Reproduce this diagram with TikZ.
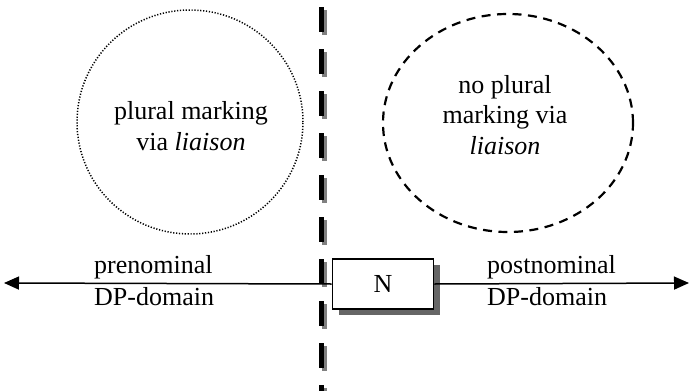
\documentclass[tikz,border=0pt]{standalone}
\usepackage{fontspec}
\setmainfont{Liberation Serif}
\usetikzlibrary{arrows.meta,shapes.geometric,shadows}

\begin{document}
\begin{tikzpicture}[x=1pt, y=-1pt,
                    every node/.style={font=\fontsize{26}{30.5}\selectfont, text=black},
                    txt/.style={align=center, inner sep=0pt},
                    dotring/.style={draw, ellipse, line width=1.5pt,
                                    dash pattern=on 1.2pt off 1.7pt},
                    dashring/.style={draw, ellipse, line width=2.2pt,
                                     dash pattern=on 9pt off 6.5pt},
                    border/.style={line width=5pt, dash pattern=on 25pt off 17pt},
                    nbox/.style={draw, line width=1.8pt, fill=white,
                                 minimum width=101pt, minimum height=50pt,
                                 drop shadow={shadow xshift=6pt, shadow yshift=-6pt,
                                              fill=black!60, opacity=1}},
                    axis/.style={line width=1.5pt, -{Triangle[length=15pt,width=13pt]}}]
	\useasboundingbox (0,0) rectangle (691,391);

	% the two regions
	\node[dotring, minimum width=226pt, minimum height=224pt] (pl) at (190, 122) {};
	\node[dashring, minimum width=250pt, minimum height=218pt] (nopl) at (508, 123) {};
	\node[txt] (plt) at (191, 126) {plural marking\\via \textit{liaison}};
	\node[txt] (noplt) at (505, 115) {no plural\\marking via\\\textit{liaison}};

	% the border between the domains
	\coordinate (btop) at (321, 7);
	\coordinate (bbot) at (321, 391);
	\draw[border, black!50] ([shift={(3.5,3)}]btop) -- ([shift={(3.5,3)}]bbot);
	\draw[border] (btop) -- (bbot);

	% the noun and its two domains
	\coordinate (lend) at (4, 283);
	\coordinate (rend) at (689, 283);
	\node[nbox] (n) at (383, 284) {N};
	\path[axis] (n.west) edge (lend);
	\path[axis] (n.east) edge (rend);

	\node[anchor=base west, inner sep=0pt] (pre) at (94, 273) {prenominal};
	\node[anchor=base west, inner sep=0pt] (pred) at (94, 305) {DP-domain};
	\node[anchor=base west, inner sep=0pt] (post) at (487, 273) {postnominal};
	\node[anchor=base west, inner sep=0pt] (postd) at (487, 305) {DP-domain};

\end{tikzpicture}
\end{document}
